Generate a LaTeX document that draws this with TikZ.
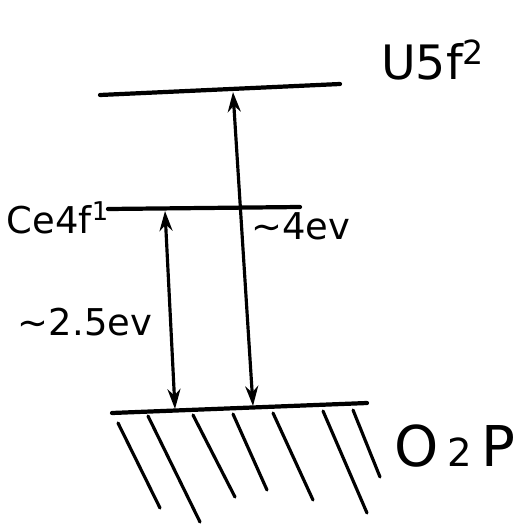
\documentclass[tikz,border=0pt]{standalone}
\usepackage{amsmath}
\usepackage{fontspec}
\setmainfont{DejaVu Sans}
\usetikzlibrary{arrows.meta}

\begin{document}
\begin{tikzpicture}[
    x={(0.02cm,0)}, y={(0,-0.02cm)},
    level/.style={line width=2.4pt, line cap=round},
    hatch/.style={line width=1.8pt, line cap=round},
    arrow/.style={{Stealth[length=4mm,width=2.6mm]}-{Stealth[length=4mm,width=2.6mm]}, line width=1.8pt},
    lab/.style={inner sep=0pt, font=\fontsize{21}{24}\selectfont},
]
    \useasboundingbox (0,0) rectangle (530,527);

    % energy levels
    \coordinate (u5l) at (100,95);  \coordinate (u5r) at (340,84);
    \coordinate (ce4l) at (108,209); \coordinate (ce4r) at (300,207);
    \coordinate (o2l) at (112,413);  \coordinate (o2r) at (367,403);
    \draw[level] (u5l) -- (u5r);
    \draw[level] (ce4l) -- (ce4r);
    \draw[level] (o2l) -- (o2r);

    % hatching below the O2P band
    \foreach \xa/\ya/\xb/\yb in {118/423/160/508, 148/416/200/522, 193/415/235/497,
        233/414/267/490, 273/413/313/500, 323/411/367/513, 353/410/380/477}
        \draw[hatch] (\xa,\ya) -- (\xb,\yb);

    % transitions
    \coordinate (ceTop) at (165,211); \coordinate (ceBot) at (175,409);
    \coordinate (uTop) at (233,92);   \coordinate (uBot) at (253,406);
    \draw[arrow] (ceBot) -- (ceTop);
    \draw[arrow] (uBot) -- (uTop);

    \node[lab, font=\fontsize{27}{30}\selectfont] (u5) at (433,60) {U5f\textsuperscript{2}};
    \node[lab] (ce4) at (58,218) {Ce4f\textsuperscript{1}};
    \node[lab] (gap4) at (301,226) {∼4ev};
    \node[lab] (gap25) at (85,322) {∼2.5ev};
    \node[lab, font=\fontsize{32}{34}\selectfont] (o2p) at (455,446)
        {O\,{\fontsize{22}{24}\selectfont 2}\,P};
\end{tikzpicture}
\end{document}
